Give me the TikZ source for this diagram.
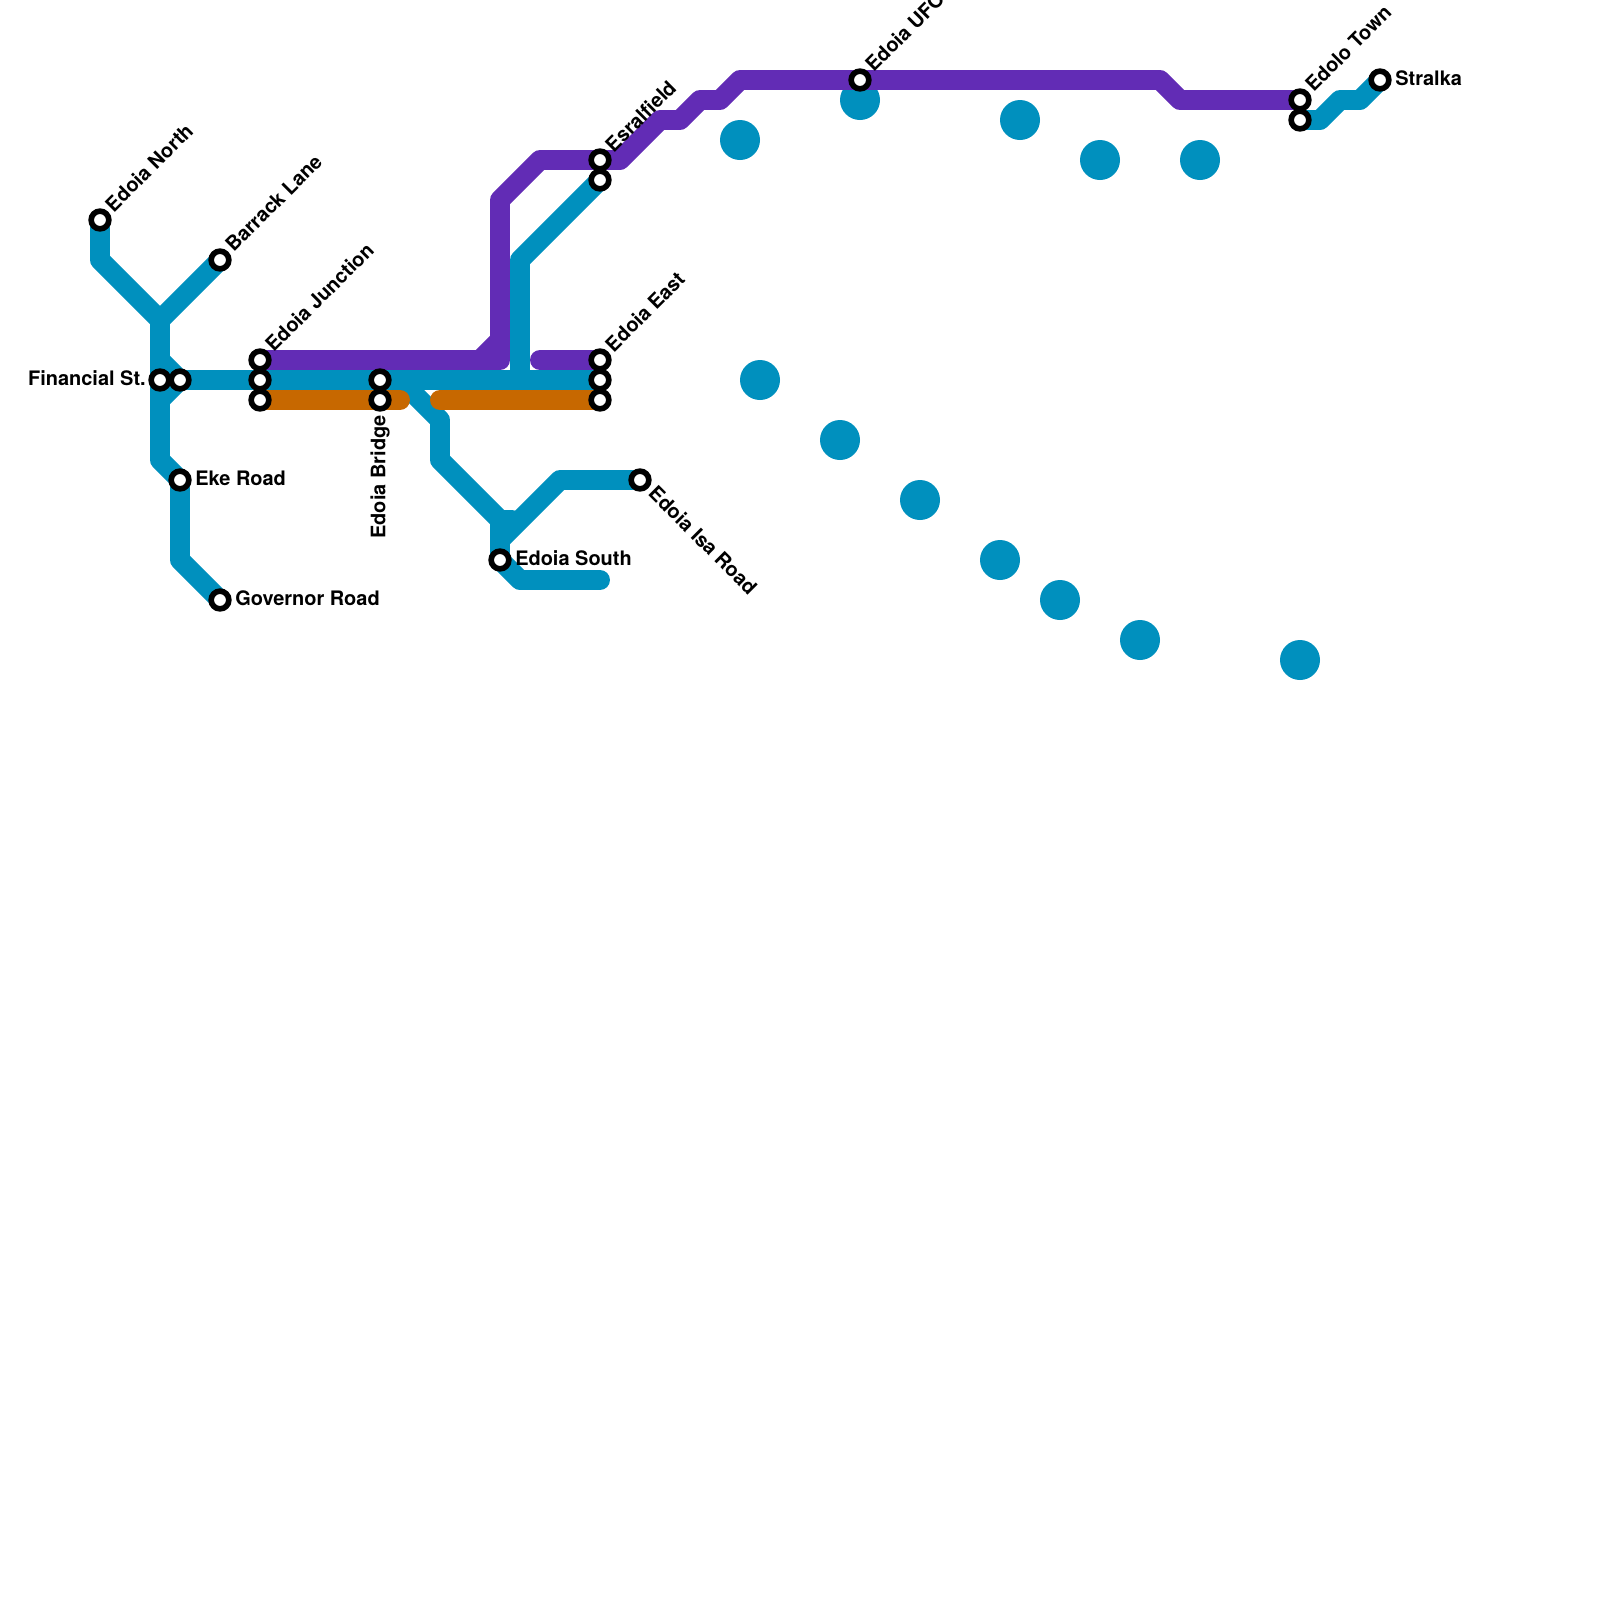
\documentclass[tikz,border=0pt]{standalone}
\usepackage{fontspec}
\setmainfont{TeX Gyre Heros}
\usetikzlibrary{backgrounds}
\definecolor{lineblue}{HTML}{0090BE}
\definecolor{linepurple}{HTML}{622CB5}
\definecolor{lineorange}{HTML}{C76800}
\tikzset{
  stn/.style={circle,draw=black,fill=white,line width=4pt,minimum size=12.6pt,inner sep=0pt},
  stnlabel/.style={font=\fontsize{14.2}{16}\selectfont\bfseries,inner sep=0pt,text=black},
  metro/.style={line width=14.2pt,line join=round,line cap=round}
}
\begin{document}
\begin{tikzpicture}[x=0.5cm,y=-0.5cm]
  \useasboundingbox (0,0) rectangle (80,80);

  % Stations
  \node[stn] (north) at (5,11) {};
  \node[stn] (barrack) at (11,13) {};
  \node[stn] (financial) at (8,19) {};
  \node[stn] (financialb) at (9,19) {};
  \node[stn] (eke) at (9,24) {};
  \node[stn] (governor) at (11,30) {};
  \node[stn] (junctiona) at (13,18) {};
  \node[stn] (junctionb) at (13,19) {};
  \node[stn] (junctionc) at (13,20) {};
  \node[stn] (bridgea) at (19,19) {};
  \node[stn] (bridgeb) at (19,20) {};
  \node[stn] (south) at (25,28) {};
  \node[stn] (isaroad) at (32,24) {};
  \node[stn] (easta) at (30,18) {};
  \node[stn] (eastb) at (30,19) {};
  \node[stn] (eastc) at (30,20) {};
  \node[stn] (esrala) at (30,8) {};
  \node[stn] (esralb) at (30,9) {};
  \node[stn] (ufo) at (43,4) {};
  \node[stn] (edoloa) at (65,5) {};
  \node[stn] (edolob) at (65,6) {};
  \node[stn] (stralka) at (69,4) {};

  % Labels
  \node[stnlabel,anchor=west,rotate=45] (northlabel) at (5.43,10.4) {Edoia North};
  \node[stnlabel,anchor=west,rotate=45] (barracklabel) at (11.43,12.4) {Barrack Lane};
  \node[stnlabel,anchor=east] (financiallabel) at (7.3,18.9) {Financial St.};
  \node[stnlabel,anchor=west] (ekelabel) at (9.75,23.9) {Eke Road};
  \node[stnlabel,anchor=west] (governorlabel) at (11.75,29.9) {Governor Road};
  \node[stnlabel,anchor=west,rotate=45] (junctionlabel) at (13.43,17.4) {Edoia Junction};
  \node[stnlabel,anchor=east,rotate=90] (bridgelabel) at (19,20.75) {Edoia Bridge};
  \node[stnlabel,anchor=west] (southlabel) at (25.75,27.9) {Edoia South};
  \node[stnlabel,anchor=west,rotate=-45] (isaroadlabel) at (32.62,24.47) {Edoia Isa Road};
  \node[stnlabel,anchor=west,rotate=45] (eastlabel) at (30.43,17.4) {Edoia East};
  \node[stnlabel,anchor=west,rotate=45] (esrallabel) at (30.43,7.4) {Esralfield};
  \node[stnlabel,anchor=west,rotate=45] (ufolabel) at (43.43,3.4) {Edoia UFO};
  \node[stnlabel,anchor=west,rotate=45] (edololabel) at (65.43,4.4) {Edolo Town};
  \node[stnlabel,anchor=west] (stralkalabel) at (69.75,3.9) {Stralka};

  \begin{scope}[on background layer]
    % Blue line
    \foreach \dotx/\doty in {37/7,43/5,51/6,55/8,60/8,38/19,42/22,46/25,50/28,53/30,57/32,65/33}
      \fill[lineblue] (\dotx,\doty) circle (1);
    \draw[metro,lineblue] (north.center) -- (5,13) -- (8,16) -- (barrack.center);
    \draw[metro,lineblue] (8,16) -- (8,23) -- (eke.center) -- (9,28) -- (governor.center);
    \draw[metro,lineblue] (8,18) -- (financialb.center) -- (8,20);
    \draw[metro,lineblue] (financialb.center) -- (eastb.center);
    \draw[metro,lineblue] (20,19) -- (22,21) -- (22,23) -- (25,26) -- (south.center) -- (26,29) -- (30,29);
    \draw[metro,lineblue] (25,26) -- (25.6,26);
    \draw[metro,lineblue] (25,27) -- (28,24) -- (isaroad.center);
    \draw[metro,lineblue] (26,19) -- (26,13) -- (esralb.center);
    \draw[metro,lineblue] (edolob.center) -- (66,6) -- (67,5) -- (68,5) -- (stralka.center);

    % Orange line
    \draw[metro,lineorange] (junctionc.center) -- (bridgeb.center) -- (20,20);
    \draw[metro,lineorange] (22,20) -- (eastc.center);

    % Purple line
    \draw[metro,linepurple] (junctiona.center) -- (25,18) -- (25,10) -- (27,8) -- (esrala.center) -- (31,8) -- (33,6) -- (34,6) -- (35,5) -- (36,5) -- (37,4) -- (ufo.center) -- (58,4) -- (59,5) -- (edoloa.center);
    \draw[metro,linepurple] (24,18) -- (25,17);
    \draw[metro,linepurple] (27,18) -- (easta.center);
  \end{scope}
\end{tikzpicture}
\end{document}
